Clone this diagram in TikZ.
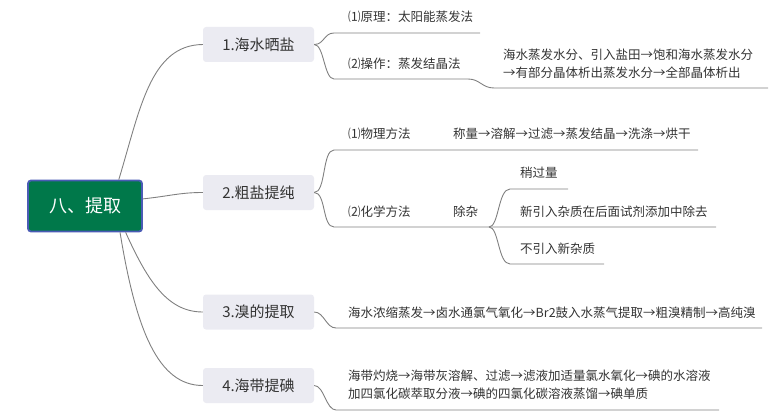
\documentclass[tikz,border=0pt]{standalone}
\usepackage{fontspec}
\setmainfont{Noto Sans CJK SC}
\definecolor{rootfill}{HTML}{00784A}
\definecolor{rootborder}{HTML}{4A5BB5}
\definecolor{mainfill}{HTML}{EBEBF2}
\definecolor{txt}{HTML}{333333}
\definecolor{conncol}{HTML}{808080}
\begin{document}
\begin{tikzpicture}[x=1pt,y=-1pt,
  rootbox/.style={draw=rootborder,line width=1.8pt,fill=rootfill,rounded corners=3pt,
    minimum width=114pt,minimum height=51pt,text=white,font=\fontsize{18}{20}\selectfont,inner sep=0pt},
  mainbox/.style={fill=mainfill,rounded corners=3pt,minimum width=111pt,minimum height=35pt,
    text=txt,font=\fontsize{15}{17}\selectfont,inner sep=0pt},
  leaf/.style={anchor=west,text=txt,font=\fontsize{12.5}{18}\selectfont,inner sep=0pt,align=left},
  conn/.style={draw=conncol,line width=0.9pt}]
\useasboundingbox (0,0) rectangle (780,420);

% root and main topics
\node[rootbox] (root) at (85,206) {八、提取};
\node[mainbox] (m1) at (258.5,44.5) {1.海水晒盐};
\node[mainbox] (m2) at (258.5,192.5) {2.粗盐提纯};
\node[mainbox] (m3) at (258.5,312) {3.溴的提取};
\node[mainbox] (m4) at (258.5,385.5) {4.海带提碘};

% root connectors
\draw[conn] (root.38) .. controls (140,110) and (150,45) .. (m1.west);
\draw[conn] (root.7) .. controls (170,196) and (180,192.5) .. (m2.west);
\draw[conn] (root.-33) .. controls (148,282) and (168,312) .. (m3.west);
\draw[conn] (root.-37) .. controls (136,330) and (158,385.5) .. (m4.west);

% branch 1
\coordinate (c1a) at (334,33);  \coordinate (e1a) at (480,33);
\coordinate (c1b) at (334,79);  \coordinate (k1b) at (468,79);
\coordinate (c1c) at (494,88);  \coordinate (e1c) at (768,88);
\draw[conn] (m1.east) .. controls +(10,0) and +(-10,0) .. (c1a) -- (e1a);
\draw[conn] (m1.east) .. controls +(10,0) and +(-10,0) .. (c1b) -- (k1b)
  .. controls +(12,0) and +(-12,0) .. (c1c) -- (e1c);
\node[leaf] (t1a) at (348,17) {⑴原理：太阳能蒸发法};
\node[leaf] (t1b) at (348,64) {⑵操作：蒸发结晶法};
\node[leaf] (t1c) at (503,64) {海水蒸发水分、引入盐田→饱和海水蒸发水分\\→有部分晶体析出蒸发水分→全部晶体析出};

% branch 2
\coordinate (c2a) at (334,150); \coordinate (e2a) at (698,150);
\coordinate (c2b) at (334,227); \coordinate (k2b) at (489,227); \coordinate (e2b) at (716,227);
\coordinate (c2e) at (510,189); \coordinate (e2e) at (568,189);
\coordinate (c2f) at (510,264); \coordinate (e2f) at (604,264);
\draw[conn] (m2.east) .. controls +(12,0) and +(-12,0) .. (c2a) -- (e2a);
\draw[conn] (m2.east) .. controls +(12,0) and +(-12,0) .. (c2b) -- (k2b) -- (e2b);
\draw[conn] (k2b) .. controls +(10,0) and +(-12,0) .. (c2e) -- (e2e);
\draw[conn] (k2b) .. controls +(10,0) and +(-12,0) .. (c2f) -- (e2f);
\node[leaf] (t2a) at (348,134) {⑴物理方法};
\node[leaf] (t2b) at (453,134) {称量→溶解→过滤→蒸发结晶→洗涤→烘干};
\node[leaf] (t2c) at (348,212) {⑵化学方法};
\node[leaf] (t2d) at (453,212) {除杂};
\node[leaf] (t2e) at (520,173) {稍过量};
\node[leaf] (t2f) at (520,212) {新引入杂质在后面试剂添加中除去};
\node[leaf] (t2g) at (520,249) {不引入新杂质};

% branch 3
\coordinate (c3) at (336,328); \coordinate (e3) at (762,328);
\draw[conn] (m3.east) .. controls +(10,0) and +(-10,0) .. (c3) -- (e3);
\node[leaf] (t3) at (348,313) {海水浓缩蒸发→卤水通氯气氧化→Br2鼓入水蒸气提取→粗溴精制→高纯溴};

% branch 4
\coordinate (c4) at (336,410); \coordinate (e4) at (719,410);
\draw[conn] (m4.east) .. controls +(10,0) and +(-10,0) .. (c4) -- (e4);
\node[leaf] (t4) at (348,385) {海带灼烧→海带灰溶解、过滤→滤液加适量氯水氧化→碘的水溶液\\加四氯化碳萃取分液→碘的四氯化碳溶液蒸馏→碘单质};
\end{tikzpicture}
\end{document}
